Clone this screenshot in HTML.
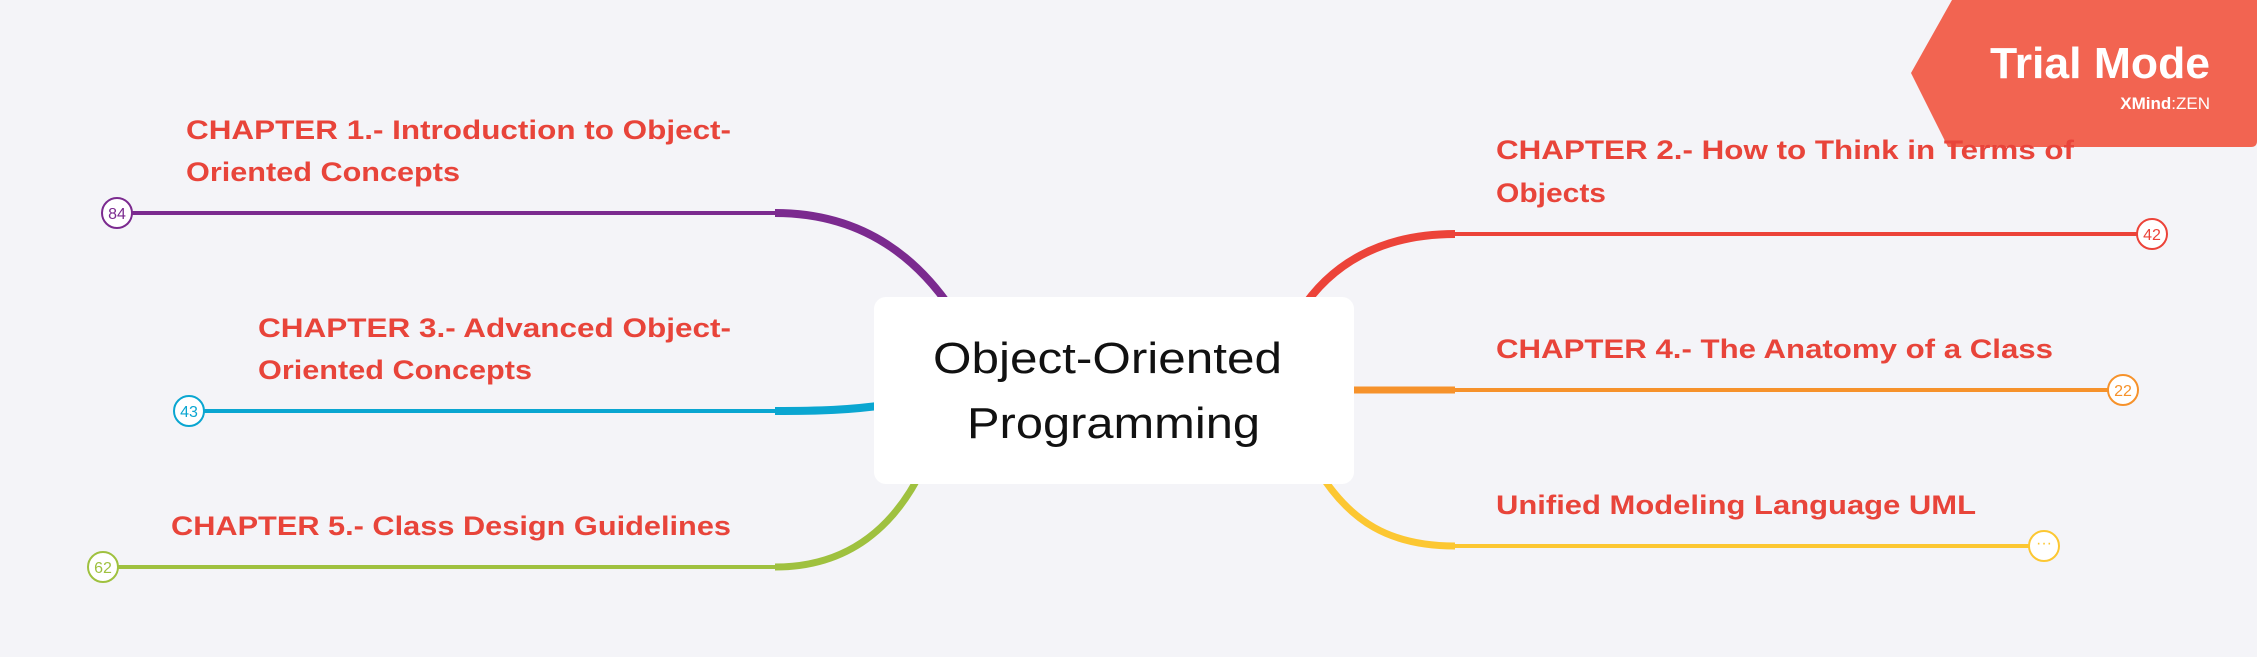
<!DOCTYPE html>
<html><head><meta charset="utf-8"><style>
html,body{margin:0;padding:0;background:#f4f4f8;}
svg{display:block;}
.t{font-family:"Liberation Sans",sans-serif;font-weight:bold;font-size:27px;fill:#e8443a;}
.n{font-family:"Liberation Sans",sans-serif;font-size:16px;text-anchor:middle;}
</style></head><body>
<svg width="2257" height="657" viewBox="0 0 2257 657" xmlns="http://www.w3.org/2000/svg">
<rect width="2257" height="657" fill="#f4f4f8"/>
<!-- connectors -->
<g fill="none" stroke-linecap="butt">
<path d="M775,213 C860,213 915,255 952,310" stroke="#7b2a8f" stroke-width="8"/>
<line x1="132" y1="213" x2="776" y2="213" stroke="#7b2a8f" stroke-width="4"/>
<path d="M775,411 C820,411 850,410 885,405" stroke="#0aa6d1" stroke-width="8"/>
<line x1="204" y1="411" x2="776" y2="411" stroke="#0aa6d1" stroke-width="4"/>
<path d="M775,567 C850,567 895,525 922,470" stroke="#9fc13f" stroke-width="7"/>
<line x1="118" y1="567" x2="776" y2="567" stroke="#9fc13f" stroke-width="4"/>
<path d="M1455,234 C1380,234 1330,265 1300,312" stroke="#ec4339" stroke-width="8"/>
<line x1="1454" y1="234" x2="2137" y2="234" stroke="#ec4339" stroke-width="4"/>
<path d="M1345,390 L1455,390" stroke="#f6922b" stroke-width="7"/>
<line x1="1454" y1="390" x2="2108" y2="390" stroke="#f6922b" stroke-width="4"/>
<path d="M1455,546 C1390,546 1350,522 1318,470" stroke="#fcc732" stroke-width="7"/>
<line x1="1454" y1="546" x2="2029" y2="546" stroke="#fcc732" stroke-width="4"/>
</g>
<!-- number circles -->
<g stroke-width="2" fill="#fff">
<circle cx="117" cy="213" r="15" stroke="#7b2a8f"/>
<circle cx="189" cy="411" r="15" stroke="#0aa6d1"/>
<circle cx="103" cy="567" r="15" stroke="#9fc13f"/>
<circle cx="2152" cy="234" r="15" stroke="#ec4339"/>
<circle cx="2123" cy="390" r="15" stroke="#f6922b"/>
<circle cx="2044" cy="546" r="15" stroke="#fcc732"/>
</g>
<text class="n" x="117" y="219" fill="#7b2a8f">84</text>
<text class="n" x="189" y="417" fill="#0aa6d1">43</text>
<text class="n" x="103" y="573" fill="#9fc13f">62</text>
<text class="n" x="2152" y="240" fill="#ec4339">42</text>
<text class="n" x="2123" y="396" fill="#f6922b">22</text>
<text class="n" x="2044" y="548" fill="#fcc732">···</text>
<!-- central box -->
<rect x="874" y="297" width="480" height="187" rx="12" fill="#ffffff"/>
<g font-family="Liberation Sans, sans-serif" font-size="44" fill="#111">
<text x="933" y="373" textLength="349" lengthAdjust="spacingAndGlyphs">Object-Oriented</text>
<text x="967" y="438" textLength="293" lengthAdjust="spacingAndGlyphs">Programming</text>
</g>
<!-- labels -->
<text class="t" x="186" y="139" textLength="545" lengthAdjust="spacingAndGlyphs">CHAPTER 1.- Introduction to Object-</text>
<text class="t" x="186" y="181" textLength="274" lengthAdjust="spacingAndGlyphs">Oriented Concepts</text>
<text class="t" x="258" y="337" textLength="473" lengthAdjust="spacingAndGlyphs">CHAPTER 3.- Advanced Object-</text>
<text class="t" x="258" y="379" textLength="274" lengthAdjust="spacingAndGlyphs">Oriented Concepts</text>
<text class="t" x="171" y="535" textLength="560" lengthAdjust="spacingAndGlyphs">CHAPTER 5.- Class Design Guidelines</text>
<!-- trial badge -->
<path d="M1952,0 L2257,0 L2257,141 Q2257,147 2251,147 L1948,147 L1911,73 Z" fill="#f26451"/>
<text x="1496" y="159" class="t" textLength="578" lengthAdjust="spacingAndGlyphs">CHAPTER 2.- How to Think in Terms of</text>
<text x="1496" y="202" class="t" textLength="110" lengthAdjust="spacingAndGlyphs">Objects</text>
<text x="1496" y="358" class="t" textLength="557" lengthAdjust="spacingAndGlyphs">CHAPTER 4.- The Anatomy of a Class</text>
<text x="1496" y="514" class="t" textLength="480" lengthAdjust="spacingAndGlyphs">Unified Modeling Language UML</text>
<text x="1990" y="78" font-family="Liberation Sans, sans-serif" font-weight="bold" font-size="44" fill="#fff" textLength="220" lengthAdjust="spacingAndGlyphs">Trial Mode</text>
<text x="2210" y="109" font-family="Liberation Sans, sans-serif" font-size="17" fill="#fff" text-anchor="end"><tspan font-weight="bold">XMind</tspan>:ZEN</text>
</svg>
</body></html>
